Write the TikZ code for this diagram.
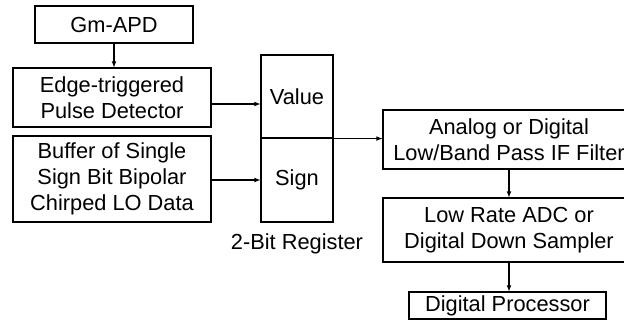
\documentclass[tikz,border=0pt]{standalone}
\usepackage{fontspec}
\setmainfont{Liberation Sans}
\begin{document}
\begin{tikzpicture}[>=latex,x=1pt,y=-1pt,line width=1.1pt,
	block/.style={draw,align=center,inner sep=0pt,font=\fontsize{21.8}{26}\selectfont},
	txt/.style={font=\fontsize{21.8}{26}\selectfont}]
\useasboundingbox (0,0) rectangle (624,329);
\clip (0,0) rectangle (624,329);
%
\node[block,minimum width=158pt,minimum height=37pt] (apd) at (114,24.5) {Gm-APD};
\node[block,minimum width=198pt,minimum height=59pt] (edge) at (112,97.5) {Edge-triggered\\Pulse Detector};
\node[block,minimum width=198pt,minimum height=86pt] (buffer) at (112,179) {Buffer of Single\\Sign Bit Bipolar\\Chirped LO Data};
%
\node[block,minimum width=72pt,minimum height=83pt] (value) at (297,96.5) {Value};
\node[block,minimum width=72pt,minimum height=84pt] (sign) at (297,180) {Sign};
\node[txt] (reglabel) at (297,244) {2-Bit Register};
%
\node[block,minimum width=252pt,minimum height=59pt] (filter) at (509,139.5) {Analog or Digital\\Low/Band Pass IF Filter};
\node[block,minimum width=252pt,minimum height=64pt] (adc) at (509,230) {Low Rate ADC or\\Digital Down Sampler};
\node[block,minimum width=197pt,minimum height=27pt] (proc) at (507.5,305.5) {Digital Processor};
%
\draw[->] (apd.south) -- (apd.south |- edge.north);
\draw[->] ([yshift=-6.5pt]edge.east) -- ([yshift=-6.5pt]edge.east -| value.west);
\draw[->] (sign.west -| buffer.east) -- (sign.west);
\draw[->] (value.south east) -- (value.south east -| filter.west);
\draw[->] (filter.south) -- (adc.north);
\draw[->] (adc.south) -- (adc.south |- proc.north);
\end{tikzpicture}
\end{document}
